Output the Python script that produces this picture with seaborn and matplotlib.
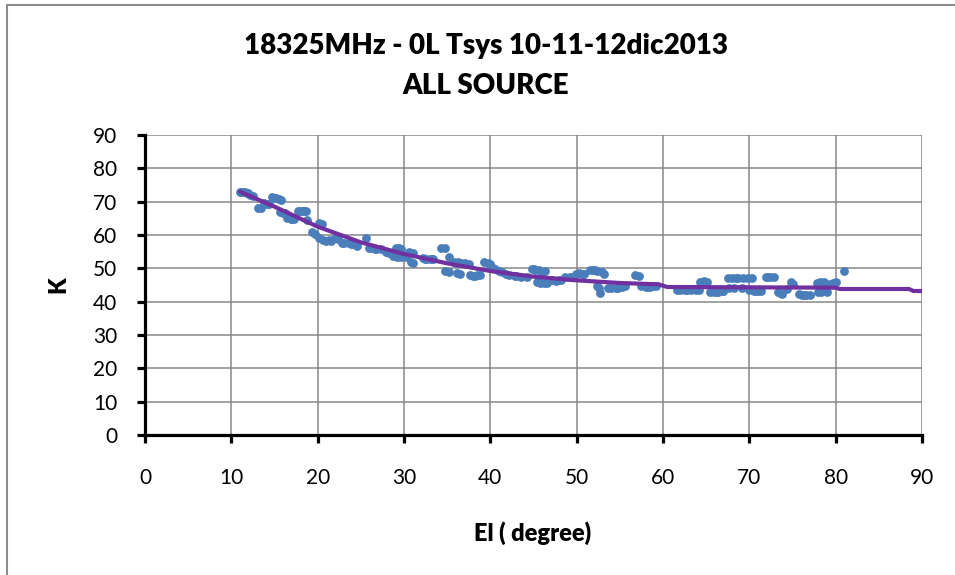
import matplotlib
matplotlib.use("Agg")
import matplotlib.pyplot as plt
import seaborn as sns
import pandas as pd
from matplotlib.lines import Line2D

# ---- data ----
el = [11.0, 11.3, 11.6, 11.9, 12.2, 12.5, 13.1, 13.4, 13.8, 14.1,
      14.7, 15.0, 15.5, 15.7, 15.6, 16.0, 16.5, 16.9, 17.3, 17.7,
      18.0, 18.4, 18.7, 18.8, 20.2, 20.5, 19.4, 19.7, 20.2, 20.6,
      21.0, 21.3, 22.0, 22.4, 22.8, 23.1, 23.6, 24.1, 24.6, 25.6,
      25.9, 26.3, 26.8, 27.3, 27.9, 28.3, 28.7, 29.1, 29.4, 29.6,
      29.2, 29.7, 30.2, 30.6, 31.0, 30.8, 31.1, 32.2, 32.6, 33.0,
      33.4, 34.3, 34.7, 35.2, 34.8, 35.2, 35.8, 36.2, 36.6, 37.1,
      37.5, 36.1, 36.5, 37.6, 38.0, 38.4, 38.8, 39.3, 39.7, 40.0,
      40.1, 40.5, 41.0, 41.4, 42.2, 42.8, 43.5, 44.8, 45.2, 45.6,
      46.0, 45.4, 45.8, 46.2, 46.6, 47.2, 47.6, 48.2, 48.7, 49.2,
      49.9, 50.3, 50.6, 51.5, 51.9, 52.3, 52.9, 53.2, 52.3, 52.6,
      52.7, 53.6, 54.0, 54.5, 55.2, 55.6, 56.8, 57.2, 57.5, 58.0,
      58.5, 58.8, 61.6, 62.0, 62.5, 64.3, 64.8, 63.8, 64.2, 65.4,
      65.9, 66.4, 66.9, 67.5, 68.0, 68.4, 69.3, 69.8, 70.3, 67.6,
      68.2, 70.0, 70.5, 71.0, 71.4, 71.9, 72.4, 72.9, 73.3, 73.8,
      74.8, 75.1, 74.4, 75.7, 76.1, 76.6, 77.0, 77.8, 78.2, 77.9,
      78.3, 79.3, 79.7, 80.0, 81.0,
      11.1, 11.8, 14.4, 15.2, 16.2, 17.0, 18.2, 21.6, 23.9, 26.6,
      28.0, 32.4, 33.2, 36.0, 38.2, 40.3, 41.8, 43.0, 44.3, 45.0,
      45.6, 46.3, 47.9, 49.5, 50.9, 52.1, 54.8, 58.2, 59.2, 62.8,
      63.3, 65.1, 66.2, 67.0, 68.7, 69.1, 70.8, 72.2, 73.5, 76.3,
      78.6, 79.0]
tsys = [73.0, 73.0, 72.8, 72.5, 72.0, 71.8, 68.0, 68.2, 69.5, 69.3,
        71.4, 71.2, 70.8, 70.6, 66.8, 66.5, 65.0, 64.8, 64.8, 67.2,
        67.3, 67.3, 67.2, 64.5, 63.7, 63.4, 60.8, 60.3, 59.0, 58.4,
        58.2, 58.5, 59.0, 58.8, 57.6, 57.6, 57.5, 57.2, 56.8, 59.0,
        56.2, 56.0, 55.9, 55.8, 55.0, 54.7, 53.6, 56.2, 56.0, 55.8,
        53.5, 53.3, 53.3, 54.8, 54.5, 51.8, 51.6, 53.0, 52.9, 52.9,
        52.7, 56.2, 56.2, 53.4, 49.2, 49.0, 51.8, 51.8, 51.6, 51.6,
        51.4, 48.6, 48.4, 48.0, 47.8, 47.9, 47.9, 51.8, 51.6, 51.2,
        50.4, 49.8, 49.2, 49.0, 48.0, 47.8, 47.5, 49.8, 49.6, 49.4,
        49.0, 46.0, 45.6, 45.6, 45.7, 46.6, 46.2, 46.5, 47.3, 47.4,
        48.2, 48.6, 48.4, 49.6, 49.5, 49.2, 48.8, 48.4, 44.8, 44.2,
        42.6, 44.2, 44.0, 44.1, 44.5, 44.6, 48.0, 47.6, 44.6, 44.4,
        44.5, 44.8, 43.6, 43.4, 43.4, 45.9, 46.2, 43.6, 43.4, 42.9,
        42.8, 43.0, 43.2, 47.1, 47.2, 47.0, 47.2, 47.2, 47.0, 44.2,
        44.0, 43.6, 43.2, 43.2, 43.3, 47.3, 47.4, 47.3, 42.8, 42.2,
        45.8, 45.4, 43.8, 42.2, 42.0, 42.0, 42.0, 45.6, 46.0, 42.9,
        42.8, 45.2, 45.6, 45.8, 49.2,
        72.9, 72.6, 69.4, 71.0, 66.6, 64.9, 67.3, 58.3, 57.4, 55.9,
        54.9, 52.9, 52.8, 51.7, 47.8, 50.2, 48.2, 47.7, 47.4, 49.7,
        45.8, 49.2, 46.4, 47.4, 48.3, 49.4, 44.0, 44.4, 44.6, 43.4,
        43.5, 46.0, 42.9, 43.2, 47.1, 44.1, 43.2, 47.3, 42.5, 42.0,
        45.9, 42.9]

fit_el = [11, 15, 20, 25, 30, 35, 40, 45, 50, 55, 59.5, 60.5, 70, 80, 80.5, 88.5, 89, 90]
fit_k = [73.0, 68.5, 62.5, 57.8, 54.3, 51.5, 49.2, 47.5, 46.4, 45.6, 45.2, 44.4, 44.3, 44.2, 43.8, 43.8, 43.2, 43.2]

x_ticks = [0, 10, 20, 30, 40, 50, 60, 70, 80, 90]
y_ticks = [0, 10, 20, 30, 40, 50, 60, 70, 80, 90]

title = "18325MHz - 0L Tsys 10-11-12dic2013\nALL SOURCE"
x_label = "El ( degree)"
y_label = "K"

sns.set_theme(style="white")
plt.rcParams['font.family'] = ['Lato', 'DejaVu Sans']
plt.rcParams['text.color'] = 'black'
plt.rcParams['xtick.color'] = 'black'
plt.rcParams['ytick.color'] = 'black'

df = pd.DataFrame({"el": el, "tsys": tsys})
fit = pd.DataFrame({"el": fit_el, "k": fit_k})

fig = plt.figure(figsize=(9.55, 5.75), dpi=100)
ax = fig.add_axes([145/955, 1-435/575, (922-145)/955, 300/575])

sns.scatterplot(data=df, x="el", y="tsys", ax=ax, color="#4A7EBB", s=40,
                linewidth=0, zorder=3, legend=False)
sns.lineplot(data=fit, x="el", y="k", ax=ax, color="#7030A0", linewidth=3,
             zorder=4, legend=False)

ax.set_xlim(0, 90)
ax.set_ylim(0, 90)
ax.set_xticks(x_ticks)
ax.set_yticks(y_ticks)
ax.grid(True, color="#878787", linewidth=1.1)
ax.set_axisbelow(True)
for s in ["top", "right"]:
    ax.spines[s].set_visible(False)
for s in ["left", "bottom"]:
    ax.spines[s].set_color("black")
    ax.spines[s].set_linewidth(2.3)
ax.tick_params(axis="x", direction="out", length=6, width=2.3, color="black",
               labelsize=15, pad=18, bottom=True, labelcolor="black")
ax.tick_params(axis="y", direction="out", length=6, width=2.3, color="black",
               labelsize=15, pad=14, left=True, labelcolor="black")
ax.set_xlabel("")
ax.set_ylabel("")

fig.text(533/955, 1-533/575, x_label, ha="center", va="center",
         fontsize=17, fontweight="heavy")
fig.text(58/955, 1-285/575, y_label, ha="center", va="center",
         fontsize=17, fontweight="heavy", rotation=90)
fig.text(486/955, 1-66/575, title, ha="center", va="center",
         fontsize=20, fontweight="heavy", linespacing=1.7)

fig.add_artist(Line2D([7/955, 7/955], [0, 1-5/575], transform=fig.transFigure,
                      color="#8c8c8c", linewidth=1.5))
fig.add_artist(Line2D([7/955, 1], [1-5/575, 1-5/575], transform=fig.transFigure,
                      color="#8c8c8c", linewidth=1.5))

fig.savefig("out.png", dpi=100)
